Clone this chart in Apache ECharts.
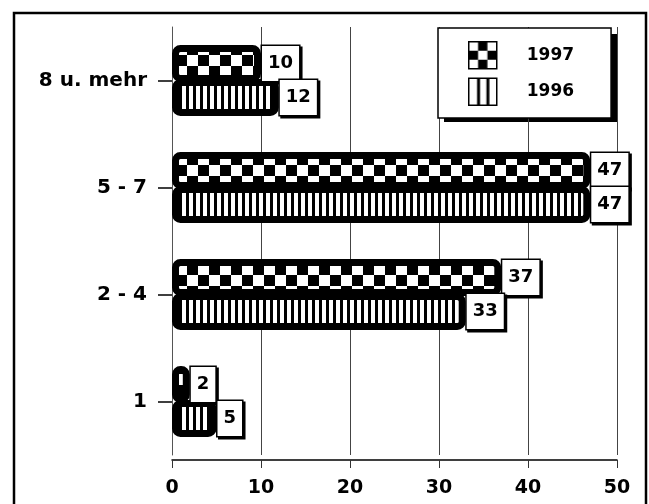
<!DOCTYPE html>
<html>
  <head>
    <meta charset="utf-8">
    <title>Haushalte</title>
    <script src="https://cdn.jsdelivr.net/npm/echarts@6/dist/echarts.min.js"></script>
    <style>
      html, body { margin: 0; padding: 0; background: #fff; }
      #main { width: 649px; height: 504px; }
    </style>
  </head>
  <body>
    <div id="main"></div>
    <script>
      // Werte
      const categories = ['1', '2 - 4', '5 - 7', '8 u. mehr'];
      const values1997 = [2, 37, 47, 10];
      const values1996 = [5, 33, 47, 12];
      const seriesNames = ['1997', '1996'];

      // Schachbrett-Muster fuer 1997
      function checkerPattern(size) {
        const c = document.createElement('canvas');
        c.width = size * 2; c.height = size * 2;
        const ctx = c.getContext('2d');
        ctx.fillStyle = '#fff';
        ctx.fillRect(0, 0, c.width, c.height);
        ctx.fillStyle = '#000';
        ctx.fillRect(size, 0, size, size);
        ctx.fillRect(0, size, size, size);
        return c;
      }
      // senkrechte Streifen fuer 1996
      function stripePattern(white, black) {
        const c = document.createElement('canvas');
        c.width = white + black; c.height = 4;
        const ctx = c.getContext('2d');
        ctx.fillStyle = '#fff';
        ctx.fillRect(0, 0, c.width, c.height);
        ctx.fillStyle = '#000';
        ctx.fillRect(white, 0, black, c.height);
        return c;
      }
      // Legendensymbole: 3x3 Schachbrett bzw. 3 Streifen
      function legendChecker(w, h) {
        const c = document.createElement('canvas');
        c.width = w; c.height = h;
        const ctx = c.getContext('2d');
        ctx.fillStyle = '#fff';
        ctx.fillRect(0, 0, w, h);
        ctx.fillStyle = '#000';
        for (let i = 0; i < 3; i++) {
          for (let j = 0; j < 3; j++) {
            if ((i + j) % 2 === 1) ctx.fillRect(i * w / 3, j * h / 3, w / 3, h / 3);
          }
        }
        return c;
      }
      function legendStripes(w, h) {
        const c = document.createElement('canvas');
        c.width = w; c.height = h;
        const ctx = c.getContext('2d');
        ctx.fillStyle = '#fff';
        ctx.fillRect(0, 0, w, h);
        ctx.fillStyle = '#000';
        ctx.fillRect(w / 3 - 1, 0, 3, h);
        ctx.fillRect(2 * w / 3 - 1, 0, 3, h);
        return c;
      }

      const checker = { image: checkerPattern(11), repeat: 'repeat' };
      const stripes = { image: stripePattern(4, 3), repeat: 'repeat' };

      const font = 'DejaVu Sans';

      const labelStyle = {
        show: true,
        position: 'right',
        distance: 1,
        color: '#000',
        fontFamily: font,
        fontWeight: 'bold',
        fontSize: 18,
        lineHeight: 20,
        backgroundColor: '#fff',
        borderColor: '#000',
        borderWidth: 1.5,
        padding: [8, 6, 7, 6],
        shadowColor: '#000',
        shadowBlur: 0,
        shadowOffsetX: 2,
        shadowOffsetY: 2
      };

      const chart = echarts.init(document.getElementById('main'), null, { renderer: 'canvas' });

      chart.setOption({
        animation: false,
        backgroundColor: '#fff',
        graphic: [
          {
            // Rahmen um das ganze Bild
            type: 'rect',
            z: -10,
            shape: { x: 14, y: 13, width: 632, height: 500 },
            style: { fill: 'none', stroke: '#000', lineWidth: 2.5 }
          },
          {
            // Schatten hinter der Legende
            type: 'rect',
            z: 0,
            shape: { x: 444, y: 34, width: 174, height: 88 },
            style: { fill: '#000' }
          }
        ],
        legend: {
          orient: 'vertical',
          left: 438,
          top: 28,
          padding: [13, 37, 12, 30],
          itemWidth: 28,
          itemHeight: 27,
          itemGap: 8,
          icon: 'rect',
          z: 5,
          backgroundColor: '#fff',
          borderColor: '#000',
          borderWidth: 1.5,
          itemStyle: { borderColor: '#000', borderWidth: 1.5 },
          textStyle: {
            color: '#000',
            fontFamily: font,
            fontWeight: 'bold',
            fontSize: 17,
            padding: [0, 0, 0, 25]
          },
          data: [
            { name: seriesNames[0], itemStyle: { color: { image: legendChecker(28, 27), repeat: 'no-repeat' } } },
            { name: seriesNames[1], itemStyle: { color: { image: legendStripes(28, 27), repeat: 'no-repeat' } } }
          ]
        },
        grid: { left: 172, right: 32, top: 27, bottom: 49 },
        xAxis: {
          type: 'value',
          min: 0,
          max: 50,
          interval: 10,
          offset: 5,
          axisLine: { show: true, lineStyle: { color: '#000', width: 1.5 } },
          axisTick: { show: true, length: 8, lineStyle: { color: '#333', width: 1 } },
          splitLine: { show: true, lineStyle: { color: '#444', width: 1 } },
          axisLabel: {
            color: '#000',
            fontFamily: font,
            fontWeight: 'bold',
            fontSize: 19,
            margin: 19
          }
        },
        yAxis: {
          type: 'category',
          data: categories,
          axisLine: { show: true, lineStyle: { color: '#555', width: 1 } },
          axisTick: { show: true, alignWithLabel: true, length: 14, lineStyle: { color: '#000', width: 1.5 } },
          axisLabel: {
            color: '#000',
            fontFamily: font,
            fontWeight: 'bold',
            fontSize: 20,
            margin: 25
          }
        },
        series: [
          {
            name: seriesNames[0],
            type: 'bar',
            data: values1997,
            barWidth: 37,
            barGap: '-8%',
            itemStyle: { color: checker, borderColor: '#000', borderWidth: 7, borderRadius: 5 },
            label: labelStyle
          },
          {
            name: seriesNames[1],
            type: 'bar',
            data: values1996,
            barWidth: 37,
            barGap: '-8%',
            itemStyle: { color: stripes, borderColor: '#000', borderWidth: 7, borderRadius: 5 },
            label: labelStyle
          }
        ]
      });
    </script>
  </body>
</html>
